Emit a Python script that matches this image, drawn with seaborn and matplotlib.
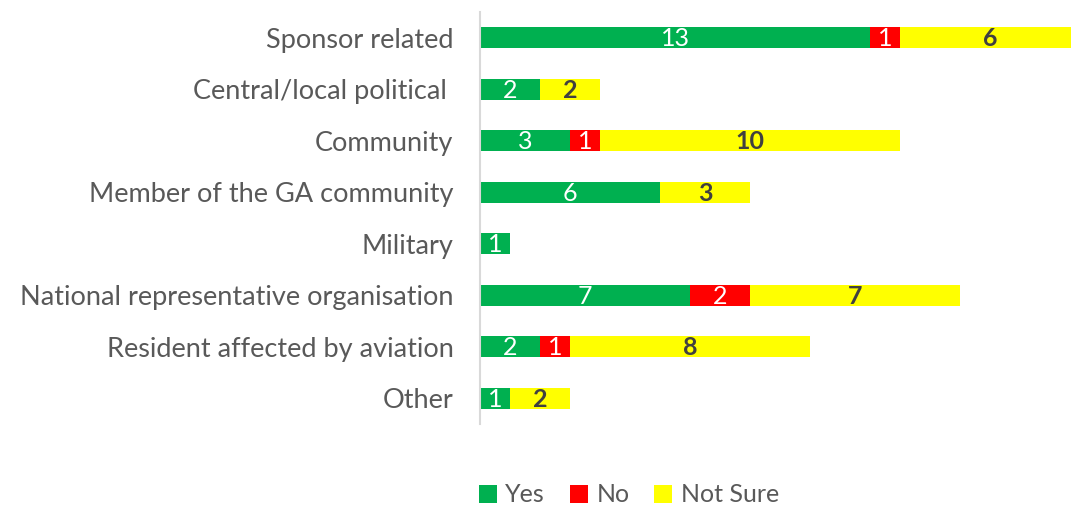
import numpy as np
import matplotlib.pyplot as plt
import seaborn as sns
from matplotlib.patches import Patch

categories = ['Sponsor related', 'Central/local political ', 'Community',
              'Member of the GA community', 'Military',
              'National representative organisation',
              'Resident affected by aviation', 'Other']
yes_vals = [13, 2, 3, 6, 1, 7, 2, 1]
no_vals = [1, 0, 1, 0, 0, 2, 1, 0]
notsure_vals = [6, 2, 10, 3, 0, 7, 8, 2]
series_names = ['Yes', 'No', 'Not Sure']

sns.set_style("white")
plt.rcParams['font.family'] = ['Lato', 'DejaVu Sans']

colors = ['#00B050', '#FF0000', '#FFFF00']
text_colors = ['white', 'white', '#404040']
weights = ['normal', 'normal', 'bold']

fig = plt.figure(figsize=(10.71, 5.07), dpi=100)
ax = fig.add_axes([480 / 1071, 1 - 424 / 507, 1 - 480 / 1071, 412 / 507])

y = np.arange(len(categories))
left = np.zeros(len(categories))
for vals, col, tc, fw in zip([yes_vals, no_vals, notsure_vals], colors, text_colors, weights):
    vals = np.array(vals, dtype=float)
    bars = ax.barh(y, vals, left=left, height=0.4, color=col, edgecolor='none')
    for b, v in zip(bars, vals):
        if v > 0:
            ax.text(b.get_x() + b.get_width() / 2, b.get_y() + b.get_height() / 2 + 0.02,
                    f'{int(v)}', ha='center', va='center', color=tc,
                    fontsize=18, fontweight=fw)
    left += vals

ax.set_xlim(0, 19.7)
ax.set_ylim(len(categories) - 0.5, -0.5)
ax.set_yticks(y)
ax.set_yticklabels(categories, fontsize=19.5, color='#595959')
ax.set_xticks([])
ax.tick_params(axis='y', length=0, pad=19)
for s in ['top', 'right', 'bottom']:
    ax.spines[s].set_visible(False)
ax.spines['left'].set_color('#D9D9D9')
ax.spines['left'].set_linewidth(1.5)

handles = [Patch(facecolor=c, edgecolor='none') for c in colors]
fig.legend(handles, series_names, loc='center', bbox_to_anchor=(629 / 1071, 1 - 495 / 507),
           ncol=3, frameon=False, fontsize=18, labelcolor='#595959',
           handlelength=0.7, handleheight=0.7, handletextpad=0.35, columnspacing=1.0)

plt.savefig('out.png', dpi=100)
